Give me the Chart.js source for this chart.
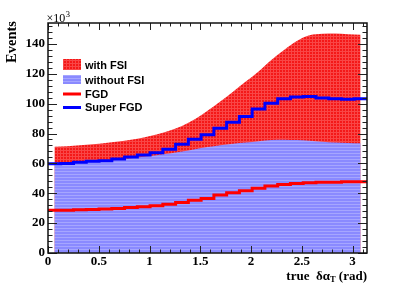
<!DOCTYPE html>
<html lang="en">
<head>
    <meta charset="UTF-8">
    <title>true delta alpha T</title>
    <style>
        body {
            margin: 0;
            padding: 0;
            background: #fff;
        }

        .container {
            width: 399px;
            height: 288px;
            position: relative;
        }
    </style>
</head>
<body>
    <div class="container">
        <canvas id="alphaChart"></canvas>
    </div>
    <script src="https://cdn.jsdelivr.net/npm/chart.js"></script>
    <script>
        // 25 bins over 0..pi, values in units of 10^3 events
        const nBins = 25;
        const withFSI = [71.2, 71.5, 72.1, 72.8, 73.6, 74.6, 75.8, 77.3, 79.3, 81.8, 85.0, 89.5, 95.3,
            101.5, 108.0, 114.8, 121.6, 129.3, 136.0, 142.0, 145.8, 146.8, 147.0, 146.5, 146.2];
        const withoutFSI = [60.3, 60.5, 60.8, 61.2, 61.7, 62.5, 63.4, 64.4, 65.5, 66.6, 67.9, 69.5, 70.9,
            72.2, 73.2, 74.0, 74.9, 75.7, 75.9, 75.6, 75.1, 74.5, 74.0, 73.7, 73.5];
        const fgd = [28.7, 28.7, 28.9, 29.1, 29.4, 29.8, 30.5, 30.9, 31.6, 32.7, 33.8, 35.4, 36.5,
            38.8, 40.3, 41.7, 43.3, 44.8, 45.9, 46.6, 47.0, 47.3, 47.3, 47.7, 47.7];
        const superFGD = [59.8, 60.0, 60.7, 61.4, 61.8, 62.9, 64.3, 65.6, 67.2, 69.4, 72.8, 76.2, 79.1,
            83.6, 87.6, 91.4, 96.5, 100.3, 103.2, 104.4, 104.8, 103.7, 103.2, 103.0, 103.2];
        const xTicks = [0, 0.5, 1, 1.5, 2, 2.5, 3];
        const yTicks = [0, 20, 40, 60, 80, 100, 120, 140];
        const legendLabels = ['with FSI', 'without FSI', 'FGD', 'Super FGD'];

        const binWidth = Math.PI / nBins;

        // smooth curves go through the bin centres
        function centres(values) {
            return values.map((v, i) => ({ x: (i + 0.5) * binWidth, y: v }));
        }

        // step histograms: one point per lower bin edge plus the closing edge
        function steps(values) {
            const pts = values.map((v, i) => ({ x: i * binWidth, y: v }));
            pts.push({ x: Math.PI, y: values[values.length - 1] });
            return pts;
        }

        function makePattern(base, light, gridCol) {
            const c = document.createElement('canvas');
            c.width = 3;
            c.height = 3;
            const p = c.getContext('2d');
            p.fillStyle = base;
            p.fillRect(0, 0, 3, 3);
            p.fillStyle = light;
            p.fillRect(0, 0, 3, 1);
            if (gridCol) p.fillRect(0, 0, 1, 3);
            return p.createPattern(c, 'repeat');
        }

        const ctx = document.getElementById('alphaChart').getContext('2d');
        const redFill = makePattern('#f41818', '#f94646', true);
        const blueFill = makePattern('#8a8aff', '#a6a6ff', false);

        const rootStyle = {
            id: 'rootStyle',
            afterDraw(chart) {
                const c = chart.ctx;
                const area = chart.chartArea;
                const xs = chart.scales.x;
                const ys = chart.scales.y;
                c.save();

                // inward ticks on all four sides
                c.strokeStyle = '#222';
                c.lineWidth = 1;
                c.beginPath();
                for (let k = 0; k <= 31; k++) {
                    const v = k / 10;
                    const px = Math.round(xs.getPixelForValue(v)) + 0.5;
                    const len = k % 5 === 0 ? 7 : 3.5;
                    c.moveTo(px, area.bottom);
                    c.lineTo(px, area.bottom - len);
                    c.moveTo(px, area.top);
                    c.lineTo(px, area.top + len);
                }
                for (let k = 0; k <= 38; k++) {
                    const v = k * 4;
                    const py = Math.round(ys.getPixelForValue(v)) + 0.5;
                    const len = k % 5 === 0 ? 9 : 4.5;
                    c.moveTo(area.left, py);
                    c.lineTo(area.left + len, py);
                    c.moveTo(area.right, py);
                    c.lineTo(area.right - len, py);
                }
                c.stroke();

                c.lineWidth = 1.5;
                c.strokeStyle = '#111';
                c.strokeRect(area.left, area.top, area.right - area.left, area.bottom - area.top);

                // legend
                c.fillStyle = redFill;
                c.fillRect(63, 59, 18, 11);
                c.fillStyle = blueFill;
                c.fillRect(63, 75, 18, 9);
                c.lineWidth = 3;
                c.strokeStyle = '#ff0000';
                c.beginPath();
                c.moveTo(63, 94);
                c.lineTo(81, 94);
                c.stroke();
                c.strokeStyle = '#0000ff';
                c.beginPath();
                c.moveTo(63, 107.5);
                c.lineTo(81, 107.5);
                c.stroke();
                c.fillStyle = '#000';
                c.font = 'bold 11px "Liberation Sans", Arial, sans-serif';
                c.textBaseline = 'alphabetic';
                c.textAlign = 'left';
                const rows = [68.5, 83.5, 97.5, 111];
                legendLabels.forEach((t, i) => c.fillText(t, 85, rows[i]));

                // y title
                c.save();
                c.translate(15.5, 21);
                c.rotate(-Math.PI / 2);
                c.textAlign = 'right';
                c.font = 'bold 14.5px "Liberation Serif", serif';
                c.fillText('Events', 0, 0);
                c.restore();

                // exponent
                c.font = '12px "Liberation Serif", serif';
                c.fillText('\u00d710', 46.5, 22);
                const w10 = c.measureText('\u00d710').width;
                c.font = '8.5px "Liberation Serif", serif';
                c.fillText('3', 46.5 + w10 + 0.5, 16.7);

                // x title, right aligned at axis end
                const big = 'bold 13px "Liberation Serif", serif';
                const small = 'bold 8.5px "Liberation Serif", serif';
                const parts = [['true  \u03b4\u03b1', big, 279.5], ['T', small, 282], [' (rad)', big, 279.5]];
                let total = 0;
                parts.forEach(p => { c.font = p[1]; total += c.measureText(p[0]).width; });
                let x = area.right - total;
                parts.forEach(p => {
                    c.font = p[1];
                    c.fillText(p[0], x, p[2]);
                    x += c.measureText(p[0]).width;
                });
                c.restore();
            }
        };

        const tickFont = { family: '"Liberation Serif", serif', weight: 'bold', size: 13 };

        new Chart(ctx, {
            type: 'line',
            data: {
                datasets: [
                    {
                        label: 'Super FGD',
                        data: steps(superFGD),
                        stepped: true,
                        borderColor: '#0000ff',
                        borderWidth: 3,
                        pointRadius: 0,
                        fill: false
                    },
                    {
                        label: 'FGD',
                        data: steps(fgd),
                        stepped: true,
                        borderColor: '#ff0000',
                        borderWidth: 3,
                        pointRadius: 0,
                        fill: false
                    },
                    {
                        label: 'without FSI',
                        data: centres(withoutFSI),
                        cubicInterpolationMode: 'monotone',
                        borderColor: 'transparent',
                        borderWidth: 0,
                        backgroundColor: blueFill,
                        pointRadius: 0,
                        fill: 'origin'
                    },
                    {
                        label: 'with FSI',
                        data: centres(withFSI),
                        cubicInterpolationMode: 'monotone',
                        borderColor: 'transparent',
                        borderWidth: 0,
                        backgroundColor: redFill,
                        pointRadius: 0,
                        fill: 'origin'
                    }
                ]
            },
            options: {
                responsive: true,
                maintainAspectRatio: false,
                animation: false,
                layout: { padding: { top: 23, right: 32, left: 0, bottom: 0 } },
                plugins: {
                    legend: { display: false },
                    tooltip: { enabled: false }
                },
                scales: {
                    x: {
                        type: 'linear',
                        min: 0,
                        max: Math.PI,
                        grid: { display: false, drawTicks: false },
                        border: { display: false },
                        afterFit: s => { s.height = 35; },
                        afterBuildTicks: s => { s.ticks = xTicks.map(v => ({ value: v })); },
                        ticks: {
                            font: tickFont,
                            color: '#000',
                            padding: 1,
                            maxRotation: 0,
                            autoSkip: false,
                            callback: v => String(v)
                        }
                    },
                    y: {
                        min: 0,
                        max: 154,
                        grid: { display: false, drawTicks: false },
                        border: { display: false },
                        afterFit: s => { s.width = 48; },
                        afterBuildTicks: s => { s.ticks = yTicks.map(v => ({ value: v })); },
                        ticks: {
                            font: tickFont,
                            color: '#000',
                            padding: 3,
                            autoSkip: false,
                            callback: v => String(v)
                        }
                    }
                }
            },
            plugins: [rootStyle]
        });
    </script>
</body>
</html>
